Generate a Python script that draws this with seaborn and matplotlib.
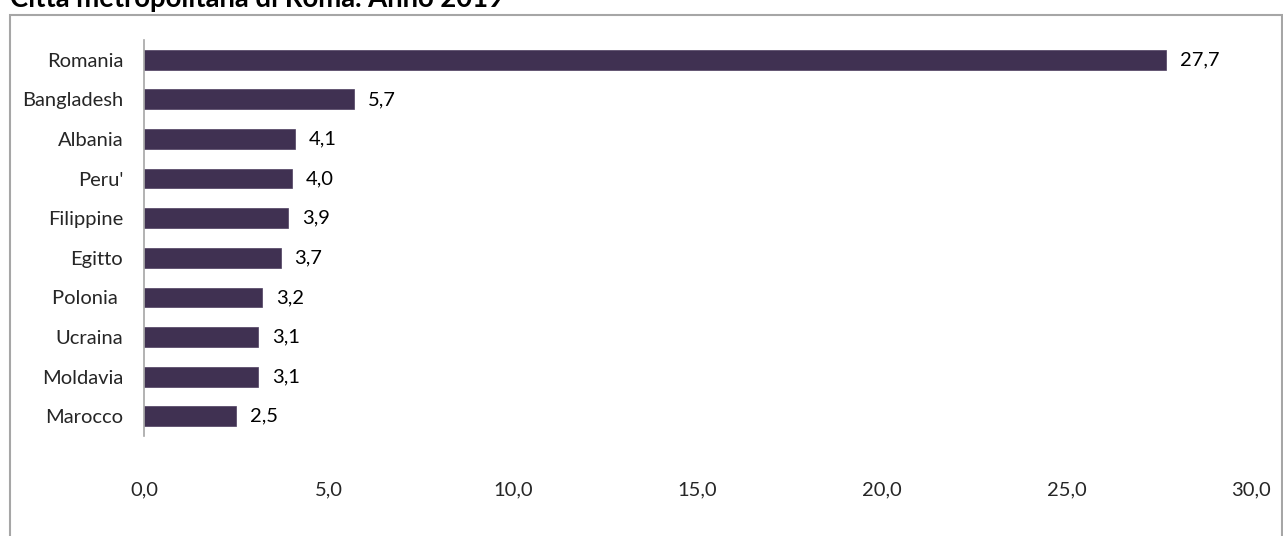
import matplotlib
matplotlib.use("Agg")
import matplotlib.pyplot as plt
import seaborn as sns
import pandas as pd
from matplotlib.patches import Rectangle

countries = ["Romania", "Bangladesh", "Albania", "Peru'", "Filippine",
             "Egitto", "Polonia ", "Ucraina", "Moldavia", "Marocco"]
shares = [27.7, 5.7, 4.1, 4.0, 3.9, 3.7, 3.2, 3.1, 3.1, 2.5]
x_ticks = [0, 5, 10, 15, 20, 25, 30]

title = "Città metropolitana di Roma. Anno 2019"
bar_color = "#403152"

sns.set_theme(style="white")
plt.rcParams["font.family"] = ["Lato", "DejaVu Sans"]

df = pd.DataFrame({"paese": countries, "quota": shares})

fig = plt.figure(figsize=(12.83, 5.36), dpi=100)
ax = fig.add_axes([144 / 1283, 1 - 436 / 536, (1251 - 144) / 1283, 396 / 536])

sns.barplot(data=df, x="quota", y="paese", color=bar_color, width=0.5,
            saturation=1, edgecolor="#4e3e60", linewidth=0.5, ax=ax)

fs = 14.5
ax.set_xlim(0, 30)
ax.set_xticks(x_ticks)
ax.set_xticklabels([f"{t:.1f}".replace(".", ",") for t in x_ticks], fontsize=fs)
ax.tick_params(axis="x", length=0, pad=33)
ax.tick_params(axis="y", length=0, pad=15, labelsize=fs)
ax.set_xlabel("")
ax.set_ylabel("")
for side in ["top", "right", "bottom"]:
    ax.spines[side].set_visible(False)
ax.spines["left"].set_color("#a6a6a6")
ax.spines["left"].set_linewidth(1.2)

for i, v in enumerate(shares):
    ax.annotate(f"{v:.1f}".replace(".", ","), xy=(v, i), xytext=(10, 0),
                textcoords="offset points", va="center", ha="left",
                fontsize=fs, color="#000000")

# chart frame
fig.patches.append(Rectangle((9.5 / 1283, -0.05), 1272 / 1283, 1 - 14.5 / 536 + 0.05,
                             transform=fig.transFigure, fill=False,
                             edgecolor="#a6a6a6", linewidth=1.5))

fig.text(10 / 1283, 1 - 7 / 536, title, fontsize=19.8, fontweight="bold",
         ha="left", va="baseline", color="#000000")

fig.savefig("out.png", dpi=100)
